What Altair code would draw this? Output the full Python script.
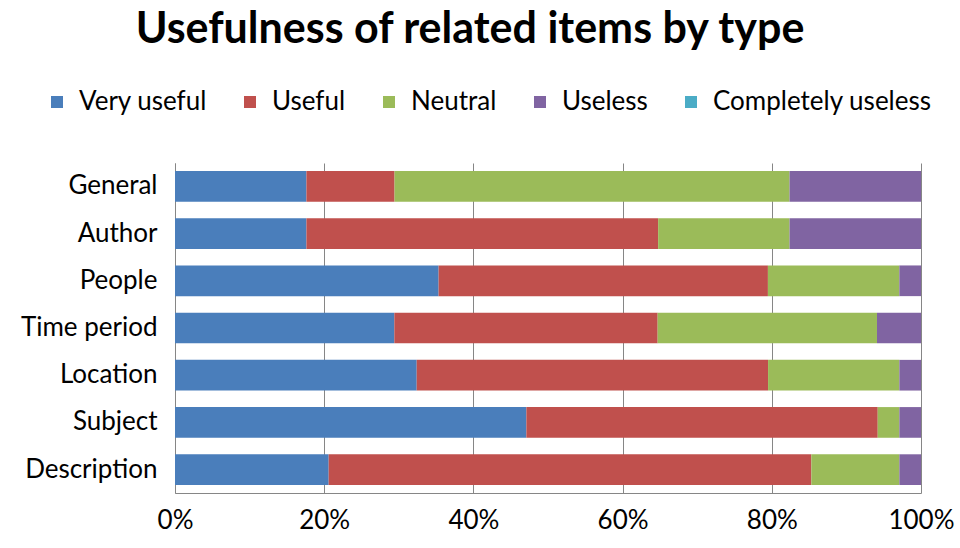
import altair as alt
import pandas as pd

categories = ["General", "Author", "People", "Time period", "Location", "Subject", "Description"]
levels = ["Very useful", "Useful", "Neutral", "Useless", "Completely useless"]
colors = ["#4A7EBB", "#C0504D", "#9BBB59", "#8064A2", "#4BACC6"]

# percentage of responses per level
very_useful = [17.6, 17.6, 35.3, 29.4, 32.4, 47.1, 20.6]
useful = [11.8, 47.1, 44.1, 35.3, 47.1, 47.1, 64.7]
neutral = [52.9, 17.6, 17.6, 29.4, 17.6, 2.9, 11.8]
useless = [17.6, 17.6, 2.9, 5.9, 2.9, 2.9, 2.9]
completely_useless = [0, 0, 0, 0, 0, 0, 0]

series = [very_useful, useful, neutral, useless, completely_useless]
rows = []
for li, (lev, vals) in enumerate(zip(levels, series)):
    for cat, v in zip(categories, vals):
        rows.append({"type": cat, "level": lev, "rank": li, "value": v})
df = pd.DataFrame(rows)

FONT = "Lato"

chart = alt.Chart(df).mark_bar().encode(
    y=alt.Y("type:N", sort=categories,
            scale=alt.Scale(paddingInner=0.35, paddingOuter=0.17),
            axis=alt.Axis(title=None, labelFontSize=26, labelFont=FONT, labelColor="#000000",
                          labelPadding=18, ticks=False, domainColor="#868686",
                          grid=False, labelLimit=300)),
    x=alt.X("value:Q", stack="normalize",
            scale=alt.Scale(domain=[0, 1], nice=False),
            axis=alt.Axis(title=None, format="%", values=[0, 0.2, 0.4, 0.6, 0.8, 1.0],
                          labelFontSize=26, labelFont=FONT, labelColor="#000000",
                          labelPadding=14, ticks=False, domainColor="#868686",
                          grid=True, gridColor="#868686", labelFlush=False)),
    color=alt.Color("level:N", sort=levels,
                    scale=alt.Scale(domain=levels, range=colors),
                    legend=alt.Legend(title=None, orient="none", direction="horizontal",
                                      legendX=-131, legendY=-74,
                                      symbolType="square", symbolSize=144,
                                      symbolStrokeWidth=0, labelFontSize=26, labelFont=FONT,
                                      labelColor="#000000", labelOffset=9, columnPadding=30,
                                      labelLimit=400)),
    order=alt.Order("rank:Q", sort="ascending"),
).properties(
    width=746,
    height=330,
    title=alt.TitleParams("Usefulness of related items by type", fontSize=43, font=FONT,
                          fontWeight="bold", color="#000000", anchor="middle",
                          frame="group", dx=-78, offset=37),
    autosize=alt.AutoSizeParams(type="none"),
    padding={"left": 175, "top": 163, "right": 39, "bottom": 55},
).configure_view(stroke=None)

chart.save("out.html", embed_options={"renderer": "svg", "actions": False})
